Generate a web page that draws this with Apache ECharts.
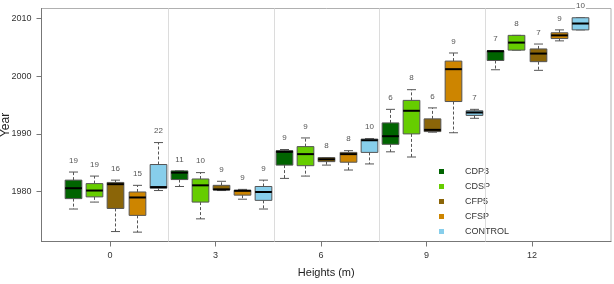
<!DOCTYPE html>
<html><head><meta charset="utf-8">
<script src="https://cdn.jsdelivr.net/npm/echarts@6/dist/echarts.min.js"></script>
<style>html,body{margin:0;padding:0;background:#fff}#c{width:614px;height:284px}</style>
</head><body><div id="c"></div>
<script>
// Data: heights (m) and per-treatment boxplot stats [min, q1, median, q3, max]
const heights = [0, 3, 6, 9, 12];
const treatments = ['CDP3', 'CDSP', 'CFP5', 'CFSP', 'CONTROL'];
const yTicks = [1980, 1990, 2000, 2010];

const cdp3 = [
  [1977.0, 1978.8, 1980.6, 1982.0, 1983.4],
  [1980.9, 1982.1, 1983.3, 1983.6, 1983.6],
  [1982.3, 1984.6, 1986.9, 1987.1, 1987.3],
  [1986.9, 1988.2, 1989.6, 1991.9, 1994.25],
  [2001.1, 2002.7, 2004.3, 2004.4, 2004.4]
];
const cdsp = [
  [1978.2, 1979.1, 1980.2, 1981.4, 1982.7],
  [1975.3, 1978.2, 1981.1, 1982.2, 1983.3],
  [1982.7, 1984.5, 1986.5, 1987.8, 1989.3],
  [1986.0, 1990.0, 1994.0, 1995.8, 1997.65],
  [2004.5, 2004.5, 2005.8, 2007.05, 2007.05]
];
const cfp5 = [
  [1973.1, 1977.1, 1981.3, 1981.6, 1982.0],
  [1980.2, 1980.3, 1980.4, 1981.1, 1981.8],
  [1984.6, 1985.2, 1985.6, 1985.9, 1985.9],
  [1990.3, 1990.4, 1990.7, 1992.6, 1994.5],
  [2001.0, 2002.5, 2003.9, 2004.7, 2005.55]
];
const cfsp = [
  [1973.0, 1975.9, 1979.0, 1979.95, 1981.1],
  [1978.7, 1979.4, 1980.15, 1980.25, 1980.4],
  [1983.75, 1985.1, 1986.5, 1986.8, 1987.1],
  [1990.2, 1995.6, 2001.2, 2002.6, 2004.0],
  [2006.1, 2006.5, 2007.05, 2007.5, 2008.0]
];
const control = [
  [1980.2, 1980.6, 1980.8, 1984.7, 1988.5],
  [1977.0, 1978.5, 1979.95, 1980.9, 1982.0],
  [1984.8, 1986.8, 1988.9, 1989.1, 1989.2],
  [1992.7, 1993.2, 1993.7, 1994.0, 1994.25],
  [2008.0, 2008.0, 2009.1, 2010.1, 2010.1]
];
const countsCDP3 = [19, 11, 9, 6, 7];
const countsCDSP = [19, 10, 9, 8, 8];
const countsCFP5 = [16, 9, 8, 6, 7];
const countsCFSP = [15, 9, 8, 9, 9];
const countsCONTROL = [22, 9, 10, 7, 10];

const stats = [cdp3, cdsp, cfp5, cfsp, control];
const counts = [countsCDP3, countsCDSP, countsCFP5, countsCFSP, countsCONTROL];
const colors = ['#006400', '#66CD00', '#8B6508', '#CD8500', '#87CEEB'];

// layout (axis units)
const GROUP_SHIFT = 0.156, BOX_STEP = 0.6, BOX_W = 0.475;

function renderItem(params, api) {
  const x = api.value(0);
  const pMin = api.coord([x, api.value(1)]);
  const pQ1 = api.coord([x, api.value(2)]);
  const pMed = api.coord([x, api.value(3)]);
  const pQ3 = api.coord([x, api.value(4)]);
  const pMax = api.coord([x, api.value(5)]);
  const n = api.value(6);
  const w = api.size([BOX_W, 0])[0];
  const cx = Math.round(pMed[0]) + 0.5;
  const half = w / 2, cap = w * 0.27;
  const col = colors[treatments.indexOf(params.seriesName)];
  const ls = {stroke: '#555', lineWidth: 1};
  return {
    type: 'group',
    children: [
      {type: 'line', shape: {x1: cx, y1: pQ3[1], x2: cx, y2: pMax[1]}, style: Object.assign({lineDash: [3, 2]}, ls)},
      {type: 'line', shape: {x1: cx, y1: pQ1[1], x2: cx, y2: pMin[1]}, style: Object.assign({lineDash: [3, 2]}, ls)},
      {type: 'line', shape: {x1: cx - cap, y1: pMax[1], x2: cx + cap, y2: pMax[1]}, style: ls},
      {type: 'line', shape: {x1: cx - cap, y1: pMin[1], x2: cx + cap, y2: pMin[1]}, style: ls},
      {type: 'rect', shape: {x: cx - half, y: pQ3[1], width: w, height: pQ1[1] - pQ3[1]},
        style: {fill: col, stroke: '#555', lineWidth: 1}},
      {type: 'line', shape: {x1: cx - half, y1: pMed[1], x2: cx + half, y2: pMed[1]},
        style: {stroke: '#000', lineWidth: 2}},
      {type: 'text', x: cx, y: pMax[1] - 11.5,
        style: {text: String(n), fill: '#555', fontSize: 8, fontFamily: 'Liberation Sans',
          align: 'center', verticalAlign: 'middle', backgroundColor: '#fff', padding: [0, 1]}}
    ]
  };
}

const series = treatments.map((name, i) => ({
  name: name,
  type: 'custom',
  renderItem: renderItem,
  itemStyle: {color: colors[i]},
  clip: false,
  z: 3,
  encode: {x: 0, y: [1, 2, 3, 4, 5]},
  data: heights.map((h, g) => [h + GROUP_SHIFT + (i - 2) * BOX_STEP].concat(stats[i][g], [counts[i][g]]))
}));

// separators between groups
const seps = heights.slice(0, -1).map((h, g) => ({xAxis: (h + heights[g + 1]) / 2 + GROUP_SHIFT}));
series.push({
  name: 'sep', type: 'line', data: [], silent: true, z: 1,
  markLine: {silent: true, symbol: ['none', 'none'], label: {show: false},
    lineStyle: {color: '#dcdcdc', type: 'solid', width: 1}, data: seps}
});

const chart = echarts.init(document.getElementById('c'), null, {renderer: 'canvas'});
chart.setOption({
  animation: false,
  textStyle: {fontFamily: 'Liberation Sans'},
  grid: {left: 41.5, right: 3, top: 8.5, bottom: 42.5, show: true, borderColor: '#b0b0b0', borderWidth: 1,
    containLabel: false, outerBoundsMode: 'none'},
  legend: {
    orient: 'vertical', left: 434, top: 161, icon: 'rect', itemWidth: 5, itemHeight: 5, itemGap: 4,
    data: treatments,
    textStyle: {fontSize: 9, color: '#333', lineHeight: 11, padding: [0, 0, 0, 16]}
  },
  xAxis: {
    type: 'value', min: -1.948, max: 14.246,
    name: 'Heights (m)', nameLocation: 'middle', nameGap: 26, nameMoveOverlap: false,
    nameTextStyle: {fontSize: 11, color: '#222'},
    axisLine: {show: true, onZero: false, lineStyle: {color: '#777'}},
    axisTick: {show: true, length: 5, lineStyle: {color: '#777'}, customValues: heights},
    axisLabel: {fontSize: 9, color: '#333', margin: 10, customValues: heights, formatter: v => String(v)},
    splitLine: {show: false}
  },
  yAxis: {
    type: 'value', min: 1971.38, max: 2011.70,
    name: 'Year', nameLocation: 'middle', nameGap: 30, nameMoveOverlap: false,
    nameTextStyle: {fontSize: 12, color: '#222'},
    axisLine: {show: true, onZero: false, lineStyle: {color: '#777'}},
    axisTick: {show: true, length: 5, lineStyle: {color: '#777'}, customValues: yTicks},
    axisLabel: {fontSize: 9, color: '#333', margin: 10, customValues: yTicks, formatter: v => String(v)},
    splitLine: {show: false}
  },
  series: series
});
</script>
</body></html>
